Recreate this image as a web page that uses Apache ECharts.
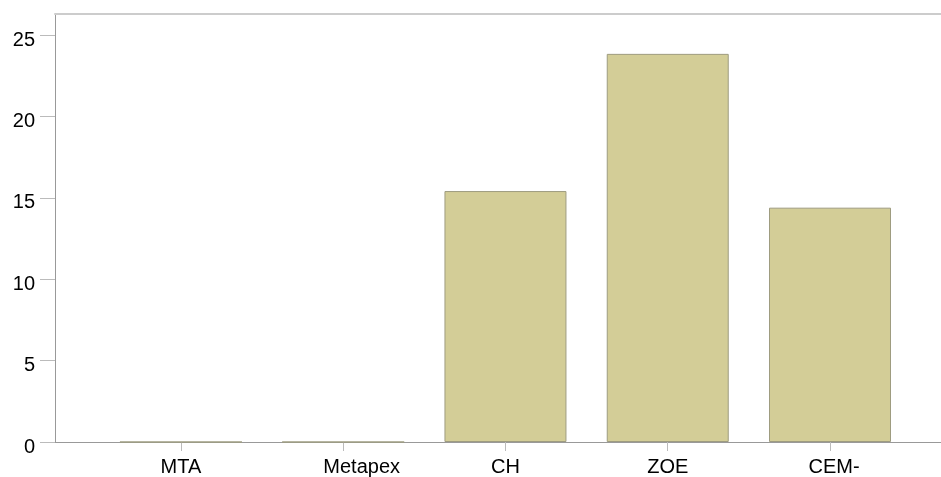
<!DOCTYPE html>
<html><head><meta charset="utf-8">
<script src="https://cdn.jsdelivr.net/npm/echarts@6/dist/echarts.min.js"></script>
<style>html,body{margin:0;padding:0;background:#fff}#c{width:941px;height:477px}</style>
</head><body><div id="c"></div>
<script>
const categories = ["MTA", "Metapex", "CH", "ZOE", "CEM-"];
const values = [0, 0, 15.42, 23.85, 14.4];
const yTicks = [0, 5, 10, 15, 20, 25];

const positions = categories.map((c, i) => i);
const chart = echarts.init(document.getElementById('c'), null, {renderer: 'canvas'});
const font = '"Liberation Sans", Arial, sans-serif';
const labelStyle = {color: '#000', fontSize: 20, fontFamily: font};
chart.setOption({
  animation: false,
  grid: {left: 55, right: 0, top: 14, bottom: 34, containLabel: false},
  xAxis: [{
    type: 'value', min: -0.776, max: 4.684,
    splitLine: {show: false},
    axisLine: {show: true, lineStyle: {color: '#999', width: 1}},
    axisTick: {show: true, length: 9, customValues: positions, lineStyle: {color: '#bbb'}},
    axisLabel: {customValues: positions, margin: 15, ...labelStyle,
      rich: {
        s18: {...labelStyle, padding: [0, 0, 0, 37]},
        s4: {...labelStyle, padding: [0, 0, 0, 8]}
      },
      formatter: v => {
        const c = categories[Math.round(v)] || '';
        if (c === 'Metapex') return '{s18|' + c + '}';
        if (c === 'CEM-') return '{s4|' + c + '}';
        return c;
      }}
  }, {
    type: 'value', position: 'top', min: -0.776, max: 4.684,
    splitLine: {show: false}, axisTick: {show: false}, axisLabel: {show: false},
    axisLine: {show: true, onZero: false, lineStyle: {color: '#ccc', width: 2}}
  }],
  yAxis: {
    type: 'value', min: 0, max: 26.3, interval: 5,
    splitLine: {show: false},
    axisLine: {show: true, onZero: false, lineStyle: {color: '#999', width: 1}},
    axisTick: {show: true, length: 15, customValues: yTicks, lineStyle: {color: '#bbb'}},
    axisLabel: {customValues: yTicks, margin: 20, ...labelStyle, verticalAlign: 'top', lineHeight: 10}
  },
  series: [{
    type: 'bar', barWidth: 122,
    data: values.map((v, i) => [i, v]),
    itemStyle: {color: '#d3cd97', borderColor: '#9e9c80', borderWidth: 1}
  }]
});
</script></body></html>
